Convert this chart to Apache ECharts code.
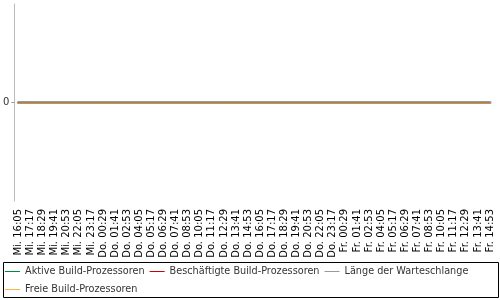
<!DOCTYPE html>
<html>
<head>
<meta charset="utf-8">
<script src="https://cdn.jsdelivr.net/npm/echarts@6/dist/echarts.min.js"></script>
<style>
  html, body { margin: 0; padding: 0; background: #fff; }
  #main { width: 500px; height: 300px; }
</style>
</head>
<body>
<div id="main"></div>
<script>
var times = [
  "Mi. 16:05", "Mi. 17:17", "Mi. 18:29", "Mi. 19:41", "Mi. 20:53", "Mi. 22:05", "Mi. 23:17",
  "Do. 00:29", "Do. 01:41", "Do. 02:53", "Do. 04:05", "Do. 05:17", "Do. 06:29", "Do. 07:41",
  "Do. 08:53", "Do. 10:05", "Do. 11:17", "Do. 12:29", "Do. 13:41", "Do. 14:53", "Do. 16:05",
  "Do. 17:17", "Do. 18:29", "Do. 19:41", "Do. 20:53", "Do. 22:05", "Do. 23:17",
  "Fr. 00:29", "Fr. 01:41", "Fr. 02:53", "Fr. 04:05", "Fr. 05:17", "Fr. 06:29", "Fr. 07:41",
  "Fr. 08:53", "Fr. 10:05", "Fr. 11:17", "Fr. 12:29", "Fr. 13:41", "Fr. 14:53"
];
// alle Werte sind 0 im Bild
var aktive = [0,0,0,0,0,0,0,0,0,0, 0,0,0,0,0,0,0,0,0,0, 0,0,0,0,0,0,0,0,0,0, 0,0,0,0,0,0,0,0,0,0];
var beschaeftigte = [0,0,0,0,0,0,0,0,0,0, 0,0,0,0,0,0,0,0,0,0, 0,0,0,0,0,0,0,0,0,0, 0,0,0,0,0,0,0,0,0,0];
var warteschlange = [0,0,0,0,0,0,0,0,0,0, 0,0,0,0,0,0,0,0,0,0, 0,0,0,0,0,0,0,0,0,0, 0,0,0,0,0,0,0,0,0,0];
var freie = [0,0,0,0,0,0,0,0,0,0, 0,0,0,0,0,0,0,0,0,0, 0,0,0,0,0,0,0,0,0,0, 0,0,0,0,0,0,0,0,0,0];
var yTicks = [0];

var names = ["Aktive Build-Prozessoren", "Beschäftigte Build-Prozessoren", "Länge der Warteschlange", "Freie Build-Prozessoren"];
var colors = ["#008a3c", "#d00000", "#999999", "#ffb347"];
var font = "DejaVu Sans";

function lineSeries(name, data, color, lineColor) {
  return {
    name: name,
    type: "line",
    animation: false,
    symbol: "none",
    itemStyle: { color: color },
    lineStyle: { color: lineColor || color, width: 1 },
    data: data
  };
}

var option = {
  animation: false,
  color: colors,
  grid: { left: 18, right: 10, top: 4, bottom: 99 },
  graphic: [{
    type: "rect",
    shape: { x: 3.5, y: 262.5, width: 495, height: 35 },
    style: { fill: "none", stroke: "#000", lineWidth: 1 },
    silent: true
  }],
  legend: {
    data: names.map(function (n, i) {
      return { name: n, itemStyle: { color: colors[i] }, lineStyle: { color: colors[i] } };
    }),
    left: 3,
    top: 262,
    width: 486,
    padding: [3, 5, 2, 2],
    itemWidth: 15,
    itemHeight: 1,
    itemGap: 5,
    icon: "rect",
    textStyle: { fontFamily: font, fontSize: 9.7, lineHeight: 13, color: "#333" }
  },
  xAxis: {
    type: "category",
    boundaryGap: false,
    data: times,
    offset: 5,
    axisLine: { lineStyle: { color: "#999", width: 3 } },
    axisTick: { show: false },
    axisLabel: {
      rotate: 90,
      interval: 0,
      margin: 3,
      fontFamily: font,
      fontSize: 10,
      color: "#000"
    },
    splitLine: { show: false }
  },
  yAxis: {
    type: "value",
    min: -1,
    max: 1,
    offset: 4,
    axisLine: { show: true, lineStyle: { color: "#bbb", width: 1 } },
    axisTick: { show: true, length: 3, customValues: yTicks, lineStyle: { color: "#999" } },
    axisLabel: { customValues: yTicks, margin: 5, fontFamily: font, fontSize: 10, color: "#333" },
    splitLine: { show: false }
  },
  series: [
    lineSeries(names[0], aktive, colors[0]),
    lineSeries(names[1], beschaeftigte, colors[1]),
    lineSeries(names[2], warteschlange, colors[2]),
    lineSeries(names[3], freie, colors[3], "#d07a10")
  ]
};

var chart = echarts.init(document.getElementById("main"));
chart.setOption(option);
</script>
</body>
</html>
